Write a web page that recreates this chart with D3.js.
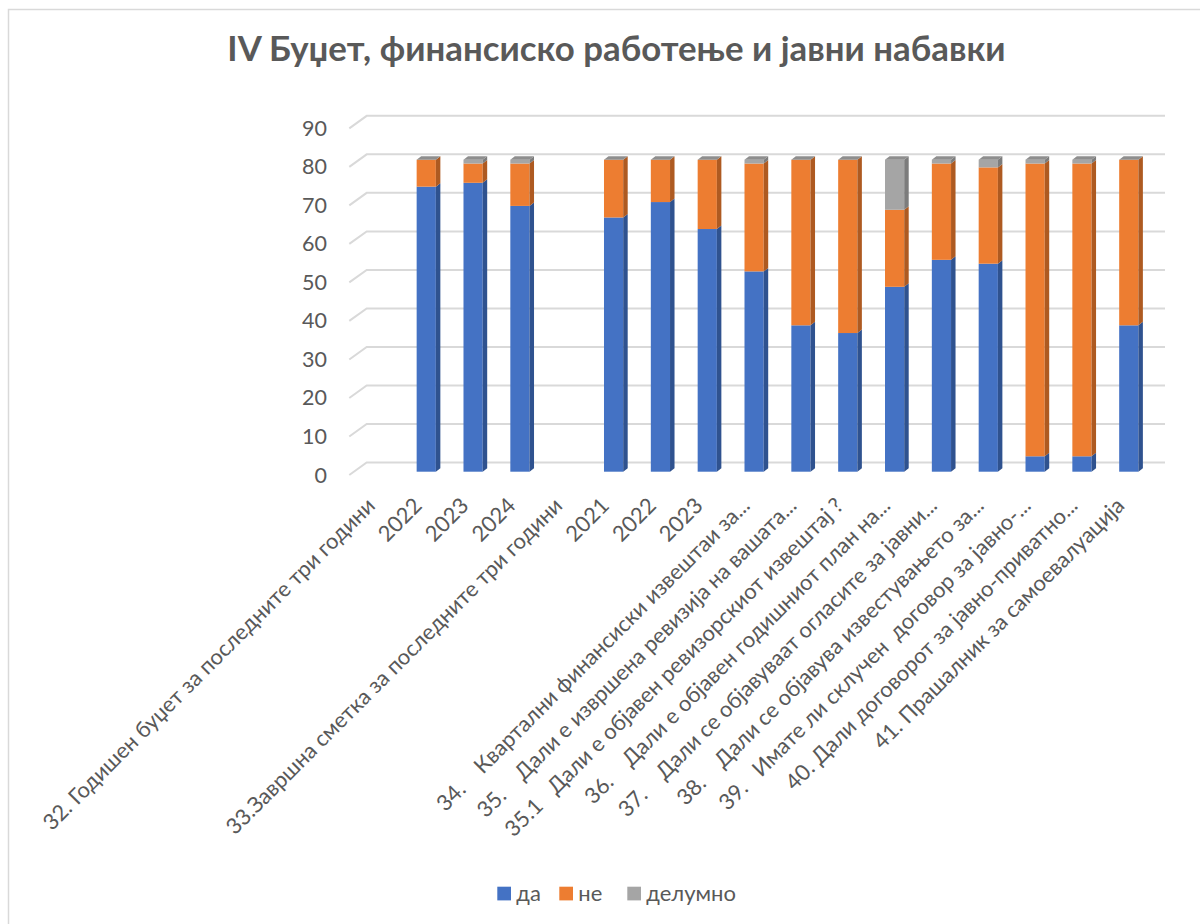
<!DOCTYPE html>
<html>
<head>
<meta charset="utf-8">
<script src="https://cdn.jsdelivr.net/npm/d3@7"></script>
<style>
  body { margin: 0; background: #fff; }
  svg { display: block; font-family: Lato, "Open Sans", sans-serif; }
</style>
</head>
<body>
<svg width="1200" height="924"></svg>
<script>
// chart data
const categories = [
  "32. Годишен буџет за последните три години",
  "2022", "2023", "2024",
  "33.Завршна сметка за последните три години",
  "2021", "2022", "2023",
  "34.    Квартални финансиски извештаи за...",
  "35.    Дали е извршена ревизија на вашата...",
  "35.1   Дали е објавен ревизорскиот извештај ?",
  "36.    Дали е објавен годишниот план на...",
  "37.    Дали се објавуваат огласите за јавни...",
  "38.    Дали се објавува известувањето за...",
  "39.   Имате ли склучен  договор за јавно-...",
  "40. Дали договорот за јавно-приватно...",
  "41. Прашалник за самоевалуација"
];
const da      = [null, 74, 75, 69, null, 66, 70, 63, 52, 38, 36, 48, 55, 54,  4,  4, 38];
const ne      = [null,  7,  5, 11, null, 15, 11, 18, 28, 43, 45, 20, 25, 25, 76, 76, 43];
const delumno = [null,  0,  1,  1, null,  0,  0,  0,  1,  0,  0, 13,  1,  2,  1,  1,  0];
const seriesNames = ["да", "не", "делумно"];
const yMax = 90;

const front = ["#4472C4", "#ED7D31", "#A5A5A5"];
const side  = ["#2F528F", "#AE5A21", "#7C7C7C"];
const capColor = "#8E8E8E";
const textColor = "#595959";

const svg = d3.select("svg");

// chart frame
svg.append("rect")
  .attr("x", 8.5).attr("y", 9.5)
  .attr("width", 1230).attr("height", 940)
  .attr("fill", "#fff")
  .attr("stroke", "#d9d9d9").attr("stroke-width", 1.5);

// title
svg.append("text")
  .attr("x", 616.5).attr("y", 61)
  .attr("text-anchor", "middle")
  .attr("font-weight", "bold")
  .attr("font-size", 34.8)
  .attr("fill", textColor)
  .text("IV Буџет, финансиско работење и јавни набавки");

// scales
const x = d3.scaleBand()
  .domain(d3.range(categories.length))
  .range([356, 1152.2])
  .paddingInner(0.59)
  .paddingOuter(0.295);

const y = d3.scaleLinear().domain([0, yMax]).range([471.7, 471.7 - yMax * 3.852]);

// 3d offsets
const axisShift = 3.3;           // front edge of floor relative to bar face
const wallShift = { dx: 17.4, dy: -12.5 };
const barDepth = { dx: 4.5, dy: -3.5 };
const wallLeft = 349.3, wallRight = 1147.6;

// gridlines (side wall diagonal + back wall)
const grid = svg.append("g");
y.ticks(9).forEach(t => {
  const yf = y(t) + axisShift;
  grid.append("polyline")
    .attr("points", [
      [wallLeft, yf],
      [wallLeft + wallShift.dx, yf + wallShift.dy],
      [wallRight + wallShift.dx, yf + wallShift.dy]
    ].join(" "))
    .attr("fill", "none")
    .attr("stroke", "#d9d9d9")
    .attr("stroke-width", 2);
});

// y tick labels
svg.append("g").selectAll("text")
  .data(y.ticks(9))
  .join("text")
  .attr("x", 327)
  .attr("y", d => y(d) + axisShift)
  .attr("dy", "0.35em")
  .attr("text-anchor", "end")
  .attr("font-size", 21.5)
  .attr("fill", textColor)
  .text(d => d);

// stacked data
const rows = categories.map((c, i) => ({ i, v: [da[i], ne[i], delumno[i]] }))
  .filter(r => r.v[0] !== null);

const bars = svg.append("g");
rows.forEach(r => {
  const x0 = x(r.i), x1 = x0 + x.bandwidth();
  let base = 0;
  r.v.forEach((val, s) => {
    const top = base + val;
    if (val > 0) {
      const yb = y(base), yt = y(top);
      bars.append("rect")
        .attr("x", x0).attr("y", yt)
        .attr("width", x.bandwidth()).attr("height", yb - yt)
        .attr("fill", front[s]);
      bars.append("polygon")
        .attr("points", [
          [x1, yt], [x1 + barDepth.dx, yt + barDepth.dy],
          [x1 + barDepth.dx, yb + barDepth.dy], [x1, yb]
        ].join(" "))
        .attr("fill", side[s]);
    }
    base = top;
  });
  // top cap of the stack
  const yt = y(base);
  bars.append("polygon")
    .attr("points", [
      [x0, yt], [x0 + barDepth.dx, yt + barDepth.dy],
      [x1 + barDepth.dx, yt + barDepth.dy], [x1, yt]
    ].join(" "))
    .attr("fill", capColor);
});

// x labels, rotated
svg.append("g").selectAll("text")
  .data(categories)
  .join("text")
  .attr("transform", (d, i) => `translate(${x(i) + x.bandwidth() / 2 - 3},507) rotate(-45)`)
  .attr("text-anchor", "end")
  .attr("font-size", 21.9)
  .attr("fill", textColor)
  .style("white-space", "pre")
  .text(d => d);

// legend
const legendX = [497.3, 559.3, 627.3];
const legend = svg.append("g");
seriesNames.forEach((n, s) => {
  legend.append("rect")
    .attr("x", legendX[s]).attr("y", 886.7)
    .attr("width", 13.7).attr("height", 13.7)
    .attr("fill", front[s]);
  legend.append("text")
    .attr("x", legendX[s] + 19).attr("y", 901)
    .attr("font-size", 22)
    .attr("fill", textColor)
    .text(n);
});
</script>
</body>
</html>
